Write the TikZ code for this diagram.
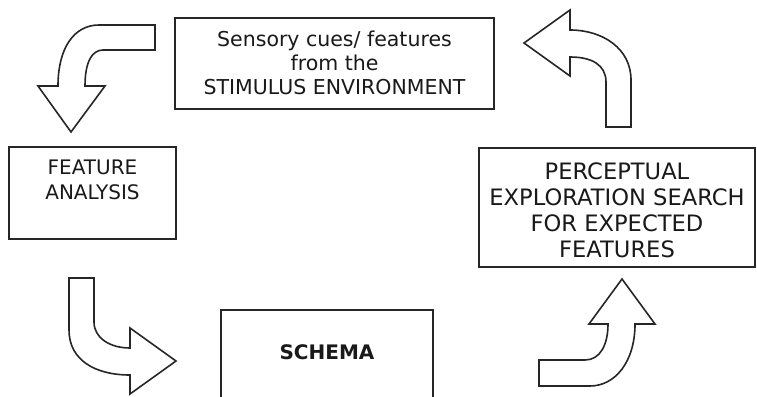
\documentclass[tikz,border=0pt]{standalone}
\usepackage{fontspec}
\setmainfont{DejaVu Sans}
\begin{document}
\begin{tikzpicture}[x=1pt,y=-1pt,
  box/.style={draw=black!85,line width=1.6pt,inner sep=0pt,fill=white},
  txt/.style={align=center,inner sep=0pt,text=black!90},
  bentarrow/.style={draw=black!85,line width=1.6pt,fill=white,line join=miter}]
\useasboundingbox (0,0) rectangle (757,396);
\clip (0,0) rectangle (757,396);
% boxes
\node[box,minimum width=319pt,minimum height=91pt] (stim) at (334.5,63.5) {};
\node[txt,font=\fontsize{20.5}{24}\selectfont] (stimtxt) at (334.5,63) {Sensory cues/ features\\from the\\STIMULUS ENVIRONMENT};
\node[box,minimum width=167pt,minimum height=92pt] (feat) at (92.5,193) {};
\node[txt,font=\fontsize{20}{25}\selectfont] (feattxt) at (92.5,179.5) {FEATURE\\ANALYSIS};
\node[box,minimum width=276pt,minimum height=119pt] (perc) at (617,207.5) {};
\node[txt,font=\fontsize{22.6}{26}\selectfont] (perctxt) at (617,210) {PERCEPTUAL\\EXPLORATION SEARCH\\FOR EXPECTED\\FEATURES};
\node[box,minimum width=212pt,minimum height=110pt] (schema) at (327,365) {};
\node[txt,font=\fontsize{20}{24}\bfseries\selectfont] (schematxt) at (327,352.5) {SCHEMA};
% bent arrows
\draw[bentarrow] (155,25) -- (99,25) .. controls (74,25) and (58,48) .. (58,86)
  -- (38,86) -- (71,132) -- (105,86) -- (85,86)
  .. controls (85,62) and (92,50) .. (103,50) -- (155,50) -- cycle;
\draw[bentarrow] (631,127) -- (631,80) .. controls (631,48) and (602,30) .. (570,30)
  -- (570,10) -- (524,43) -- (570,76) -- (570,57)
  .. controls (592,57) and (606,65) .. (606,82) -- (606,127) -- cycle;
\draw[bentarrow] (69,278) -- (94,278) -- (94,322) .. controls (94,338) and (110,348) .. (130,348)
  -- (130,328) -- (176,361) -- (130,394) -- (130,375)
  .. controls (95,375) and (69,360) .. (69,330) -- cycle;
\draw[bentarrow] (539,360) -- (585,360) .. controls (600,360) and (608,345) .. (608,324)
  -- (589,324) -- (622,279) -- (655,324) -- (635,324)
  .. controls (635,362) and (615,386) .. (590,386) -- (539,386) -- cycle;
\end{tikzpicture}
\end{document}
